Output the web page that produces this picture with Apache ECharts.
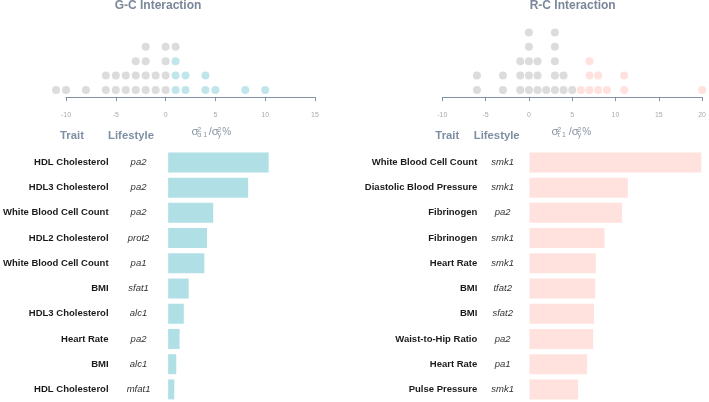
<!DOCTYPE html>
<html><head><meta charset="utf-8">
<script src="https://cdn.jsdelivr.net/npm/echarts@6/dist/echarts.min.js"></script>
<style>html,body{margin:0;padding:0;background:#fff}#c{width:709px;height:402px}</style>
</head><body><div id="c"></div><script>
// ---- G-C interaction ----
const gcTraits = ['HDL Cholesterol','HDL3 Cholesterol','White Blood Cell Count','HDL2 Cholesterol','White Blood Cell Count','BMI','HDL3 Cholesterol','Heart Rate','BMI','HDL Cholesterol'];
const gcLifestyles = ['pa2','pa2','pa2','prot2','pa1','sfat1','alc1','pa2','alc1','mfat1'];
const gcValues = [10.27, 8.17, 4.6, 3.97, 3.7, 2.1, 1.6, 1.17, 0.83, 0.63];
const gcColoredDots = [1,1,1,2,2,4,4,5,8,10];
const gcGrayDots = [-11,-10,-8,-6,-6,-5,-5,-4,-4,-3,-3,-3,-2,-2,-2,-2,-1,-1,0,0,0,0,1];
// ---- R-C interaction ----
const rcTraits = ['White Blood Cell Count','Diastolic Blood Pressure','Fibrinogen','Fibrinogen','Heart Rate','BMI','BMI','Waist-to-Hip Ratio','Heart Rate','Pulse Pressure'];
const rcLifestyles = ['smk1','smk1','pa2','smk1','smk1','tfat2','sfat2','pa2','pa1','smk1'];
const rcValues = [19.7, 11.27, 10.62, 8.6, 7.6, 7.53, 7.41, 7.3, 6.61, 5.58];
const rcColoredDots = [6,7,7,7,8,8,9,11,11,20];
const rcGrayDots = [-6,-6,-3,-3,-1,-1,-1,0,0,0,0,0,1,1,1,2,3,3,3,3,3,4,4,5];

const titles = ['G-C Interaction','R-C Interaction'];
const headers = ['Trait','Lifestyle'];

function stackDots(colored, gray){
  const count = {};
  const place = v => { count[v] = (count[v]||0)+1; return [v, count[v]]; };
  return {colored: colored.map(place), gray: gray.map(place)};
}
const gcDots = stackDots(gcColoredDots, gcGrayDots);
const rcDots = stackDots(rcColoredDots, rcGrayDots);

const FONT = '"Liberation Sans", Arial, sans-serif';
const BLUE = '#b0e0e6', PINK = '#ffe1dd', GRAY = '#d3d3d3';
const AXC = '#8393a6';
const idx = gcValues.map((_, i) => String(i));

function dotX(gi, min, max){
  return {gridIndex: gi, type: 'value', min: min, max: max, interval: 5,
    axisLine: {lineStyle: {color: AXC, width: 1}},
    axisTick: {length: 4, lineStyle: {color: AXC}},
    axisLabel: {fontSize: 7, color: '#aaa', margin: 14, fontFamily: FONT},
    splitLine: {show: false}};
}
function barY(gi, traits, lifes, margin, pad){
  return {gridIndex: gi, type: 'category', inverse: true, data: idx,
    axisLine: {show: false}, axisTick: {show: false},
    axisLabel: {margin: margin, align: 'right',
      formatter: v => '{t|' + traits[+v] + '}{l|' + lifes[+v] + '}',
      rich: {
        t: {fontFamily: FONT, fontWeight: 'bold', fontSize: 9.5, color: '#1a1a1a', padding: [0, pad, 0, 0]},
        l: {fontFamily: FONT, fontStyle: 'italic', fontSize: 9.5, color: '#333', width: 40, align: 'center'}
      }}};
}
function formula(x0, sub){
  const c = '#8a96a5';
  const t = (x, y, s, fs) => ({type: 'text', x: x, y: y, style: {text: s, fontSize: fs, fontFamily: FONT, fill: c, verticalAlign: 'middle', align: 'left'}});
  return [
    t(x0, 132.3, 'σ', 11.5), t(x0 + 5.8, 129.6, '2', 7), t(x0 + 5.8, 134.8, sub, 7),
    t(x0 + 17.2, 132, '/', 11),
    t(x0 + 20.2, 132.3, 'σ', 11.5), t(x0 + 26, 129.6, '2', 7), t(x0 + 26.2, 134.8, 'y', 7),
    t(x0 + 30.8, 132, '%', 10)
  ];
}
function txt(x, y, s, fs, color, weight){
  return {type: 'text', x: x, y: y, style: {text: s, fontSize: fs, fontFamily: FONT, fontWeight: weight || 'bold', fill: color, align: 'center', verticalAlign: 'middle'}};
}

const option = {
  animation: false,
  backgroundColor: '#fff',
  grid: [
    {left: 66, width: 249, top: 18, height: 79.2},
    {left: 442.3, width: 261.7, top: 18, height: 79.2},
    {left: 165.6, width: 149.4, top: 149.8, height: 253},
    {left: 529.5, width: 174.4, top: 149.8, height: 253}
  ],
  xAxis: [
    dotX(0, -10, 15), dotX(1, -10, 20),
    {gridIndex: 2, type: 'value', min: 0, max: 15, show: false},
    {gridIndex: 3, type: 'value', min: 0, max: 20, show: false}
  ],
  yAxis: [
    {gridIndex: 0, type: 'value', min: 0.5, max: 6, show: false},
    {gridIndex: 1, type: 'value', min: 0.5, max: 6, show: false},
    barY(2, gcTraits, gcLifestyles, 9.6, 10),
    barY(3, rcTraits, rcLifestyles, 6.8, 5.4)
  ],
  series: [
    {type: 'scatter', xAxisIndex: 0, yAxisIndex: 0, data: gcDots.gray, symbolSize: 8, clip: false, silent: true, itemStyle: {color: GRAY}},
    {type: 'scatter', xAxisIndex: 0, yAxisIndex: 0, data: gcDots.colored, symbolSize: 8, clip: false, silent: true, itemStyle: {color: BLUE}},
    {type: 'scatter', xAxisIndex: 1, yAxisIndex: 1, data: rcDots.gray, symbolSize: 8, clip: false, silent: true, itemStyle: {color: GRAY}},
    {type: 'scatter', xAxisIndex: 1, yAxisIndex: 1, data: rcDots.colored, symbolSize: 8, clip: false, silent: true, itemStyle: {color: '#ffd9d5'}},
    {type: 'bar', xAxisIndex: 2, yAxisIndex: 2, data: gcValues, barWidth: 20, silent: true, itemStyle: {color: BLUE}},
    {type: 'bar', xAxisIndex: 3, yAxisIndex: 3, data: rcValues, barWidth: 20, silent: true, itemStyle: {color: PINK}}
  ],
  graphic: [
    txt(158, 5.5, titles[0], 12, '#7a8799'),
    txt(572.7, 5.5, titles[1], 12, '#7a8799'),
    txt(72, 136, headers[0], 11.3, '#7f8fa3'),
    txt(131, 136, headers[1], 11.3, '#7f8fa3'),
    txt(447.3, 136, headers[0], 11.3, '#7f8fa3'),
    txt(496.7, 136, headers[1], 11.3, '#7f8fa3'),
    ...formula(191.5, 'α 1'),
    ...formula(551.5, 'τ 1')
  ]
};
const chart = echarts.init(document.getElementById('c'), null, {renderer: 'canvas'});
chart.setOption(option);
</script></body></html>
